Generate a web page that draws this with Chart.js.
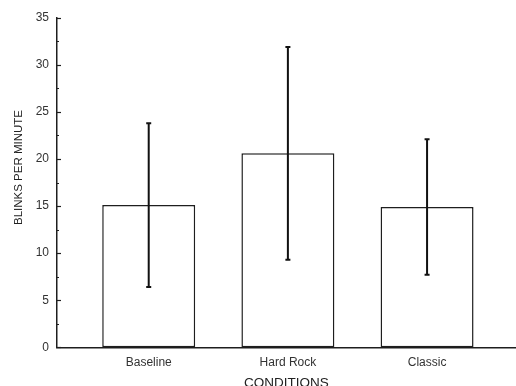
<!DOCTYPE html>
<html>
<head>
<meta charset="utf-8">
<script src="https://cdn.jsdelivr.net/npm/chart.js@4/dist/chart.umd.min.js"></script>
<style>
  html, body { margin: 0; padding: 0; background: #fff; }
  #wrap { width: 516px; height: 386px; }
</style>
</head>
<body>
<div id="wrap"><canvas id="c" width="516" height="386"></canvas></div>
<script>
// Blink rate under three listening conditions (mean ± SD)
const conditions = ['Baseline', 'Hard Rock', 'Classic'];
const meanBlinks = [15.1, 20.6, 14.9];
const sdBlinks = [8.7, 11.3, 7.2];
const yTickValues = [0, 5, 10, 15, 20, 25, 30, 35];
const yTitle = 'BLINKS PER MINUTE';
const xTitle = 'CONDITIONS';

const ink = '#1e1e1e';
const labelFont = { family: '"Liberation Sans", Arial, sans-serif', size: 12 };

// Short inward tick marks on the value axis (long at labelled steps)
const inwardTicks = {
  id: 'inwardTicks',
  afterDraw(chart) {
    const y = chart.scales.y;
    const ctx = chart.ctx;
    const x0 = chart.chartArea.left;
    ctx.save();
    ctx.strokeStyle = ink;
    ctx.lineWidth = 1.2;
    y.ticks.forEach(t => {
      const py = Math.round(y.getPixelForValue(t.value)) + 0.5;
      const len = yTickValues.includes(t.value) ? 4 : 2;
      ctx.beginPath();
      ctx.moveTo(x0, py);
      ctx.lineTo(x0 + len, py);
      ctx.stroke();
    });
    ctx.restore();
  }
};

// Vertical error bars with small caps
const errorBars = {
  id: 'errorBars',
  afterDatasetsDraw(chart) {
    const xs = chart.scales.x, ys = chart.scales.y;
    const ctx = chart.ctx;
    ctx.save();
    ctx.strokeStyle = '#111';
    ctx.lineWidth = 2;
    meanBlinks.forEach((m, i) => {
      const px = xs.getPixelForValue(i + 1);
      const top = ys.getPixelForValue(m + sdBlinks[i]);
      const bot = ys.getPixelForValue(m - sdBlinks[i]);
      ctx.beginPath();
      ctx.moveTo(px, top);
      ctx.lineTo(px, bot);
      ctx.moveTo(px - 2.5, top);
      ctx.lineTo(px + 2.5, top);
      ctx.moveTo(px - 2.5, bot);
      ctx.lineTo(px + 2.5, bot);
      ctx.stroke();
    });
    ctx.restore();
  }
};

// Rotated value-axis title
const sideTitle = {
  id: 'sideTitle',
  afterDraw(chart) {
    const ctx = chart.ctx;
    ctx.save();
    ctx.translate(18.5, 167.5);
    ctx.rotate(-Math.PI / 2);
    ctx.fillStyle = '#222';
    ctx.font = '11.5px "Liberation Sans", Arial, sans-serif';
    ctx.textAlign = 'center';
    ctx.textBaseline = 'middle';
    ctx.fillText(yTitle, 0, 0);
    ctx.restore();
  }
};

new Chart(document.getElementById('c'), {
  type: 'bar',
  data: {
    datasets: [{
      data: meanBlinks.map((v, i) => ({ x: i + 1, y: v })),
      backgroundColor: '#ffffff',
      borderColor: ink,
      borderWidth: 1.5,
      borderSkipped: false,
      barPercentage: 0.668,
      categoryPercentage: 1
    }]
  },
  options: {
    responsive: false,
    animation: false,
    devicePixelRatio: 1,
    layout: { padding: { top: 17.7, left: 0, right: 0, bottom: 0 } },
    plugins: { legend: { display: false }, tooltip: { enabled: false } },
    scales: {
      x: {
        type: 'linear',
        offset: false,
        min: 0.341,
        max: 3.639,
        grid: { display: false, drawTicks: false, offset: false },
        border: { display: true, color: ink, width: 1.5 },
        afterBuildTicks: s => { s.ticks = conditions.map((c, i) => ({ value: i + 1 })); },
        afterFit: s => { s.height = 38.7; },
        ticks: {
          padding: 8,
          color: '#333',
          font: labelFont,
          maxRotation: 0,
          autoSkip: false,
          callback: v => conditions[v - 1] || ''
        },
        title: {
          display: true,
          text: xTitle,
          color: '#222',
          font: { family: '"Liberation Sans", Arial, sans-serif', size: 13.5, lineHeight: 1 },
          padding: { top: 0, bottom: -4 }
        }
      },
      y: {
        min: 0,
        max: 35,
        grid: { display: false, drawTicks: false },
        border: { display: true, color: ink, width: 1.5 },
        afterFit: s => { s.width = 57; },
        ticks: {
          stepSize: 2.5,
          padding: 8,
          color: '#333',
          font: labelFont,
          autoSkip: false,
          callback: v => (yTickValues.includes(v) ? String(v) : '')
        }
      }
    }
  },
  plugins: [inwardTicks, errorBars, sideTitle]
});
</script>
</body>
</html>
